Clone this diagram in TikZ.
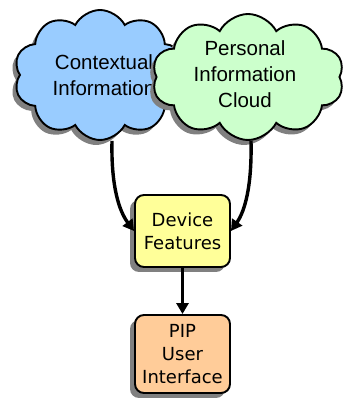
\documentclass[tikz,border=0pt]{standalone}
\usepackage{fontspec}
\setmainfont{Liberation Sans}
\newfontfamily\boxfont{DejaVu Sans}
\usetikzlibrary{shapes.symbols,arrows.meta,calc}

\definecolor{ctxblue}{HTML}{99CCFF}
\definecolor{pipgreen}{HTML}{CCFFCC}
\definecolor{devyellow}{HTML}{FFFF99}
\definecolor{uiorange}{HTML}{FFCC99}
\definecolor{shade}{HTML}{808080}

\tikzset{
  puffy/.style={cloud, cloud puffs=10, cloud puff arc=125, cloud ignores aspect,
    inner sep=0pt, draw=black, line width=1.9pt},
  puffshadow/.style={cloud, cloud puffs=10, cloud puff arc=125, cloud ignores aspect,
    inner sep=0pt, fill=shade, draw=none},
  cloudtext/.style={font=\fontsize{20.5}{26}\selectfont, align=center, text=black},
  boxshape/.style={rectangle, rounded corners=9pt, draw=black, line width=1.9pt,
    minimum width=95pt, inner sep=0pt, align=center,
    font=\boxfont\fontsize{18}{23}\selectfont},
  boxshadow/.style={rectangle, rounded corners=9pt, fill=shade, minimum width=95pt, inner sep=0pt},
  flow/.style={line width=3.4pt, -{Triangle[length=11pt,width=12pt]}}
}

\begin{document}
\begin{tikzpicture}[x=1pt,y=1pt]
\useasboundingbox (0,0) rectangle (346,398);

% contextual information cloud
\node[puffshadow, minimum width=172pt, minimum height=130pt] (ctxs) at (96,318) {};
\node[puffy, fill=ctxblue, minimum width=172pt, minimum height=130pt] (ctx) at (100,323) {};
\node[cloudtext] (ctxt) at (104,323) {Contextual\\Information};

% personal information cloud
\node[puffshadow, minimum width=192pt, minimum height=126pt] (pics) at (244,316) {};
\node[puffy, fill=pipgreen, minimum width=192pt, minimum height=126pt] (pic) at (248,321) {};
\node[cloudtext] (pict) at (245,324) {Personal\\Information\\Cloud};

% device features box
\node[boxshadow, minimum height=72pt] (devs) at (177.5,162) {};
\node[boxshape, fill=devyellow, minimum height=72pt] (dev) at (182.5,167) {Device\\Features};

% PIP user interface box
\node[boxshadow, minimum height=78pt] (pips) at (177.5,39) {};
\node[boxshape, fill=uiorange, minimum height=78pt] (pip) at (182.5,44) {PIP\\User\\Interface};

% connectors
\draw[flow] ([xshift=12pt]ctx.south) .. controls +(-1,-45) and +(-15,20) .. (dev.west);
\draw[flow] ([xshift=3pt]pic.south) .. controls +(1,-45) and +(14,20) .. (dev.east);
\draw[flow] (dev.south) -- (pip.north);
\end{tikzpicture}
\end{document}
